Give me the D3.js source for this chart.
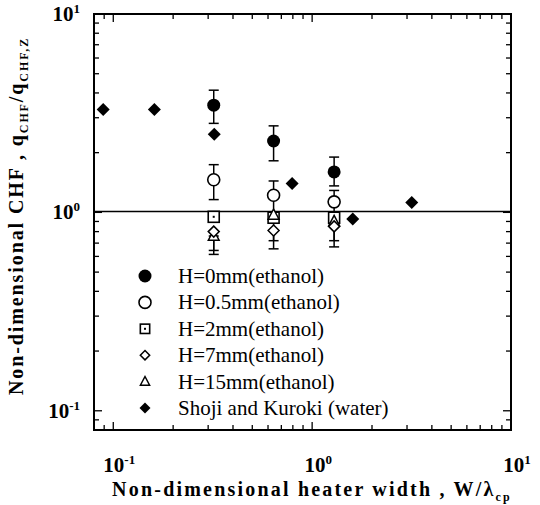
<!DOCTYPE html>
<html>
<head>
<meta charset="utf-8">
<script src="https://cdn.jsdelivr.net/npm/d3@7"></script>
<style>
  body { margin: 0; background: #fff; }
  text { font-family: "Liberation Serif", "DejaVu Serif", serif; fill: #000; }
</style>
</head>
<body>
<div id="chart"></div>
<script>
const width = 540, height = 505;

// ethanol data, columns of W/lambda
const xEthanol = [0.32, 0.64, 1.29];
const h0 = [3.47, 2.29, 1.60];
const h0Lo = [2.81, 1.82, 1.36];
const h0Hi = [4.13, 2.73, 1.90];
const h05 = [1.46, 1.22, 1.13];
const h05Lo = [1.16, 1.0, 0.95];
const h05Hi = [1.74, 1.44, 1.29];
const h2 = [0.95, 0.94, 0.94];
const h7 = [0.80, 0.81, 0.85];
const h7Lo = [0.643, 0.72, 0.72];
const h15 = [0.76, 0.97, 0.90];
const h15Lo = [0.614, 0.655, 0.67];

// Shoji and Kuroki (water)
const xShoji = [0.089, 0.161, 0.322, 0.793, 1.60, 3.17];
const yShoji = [3.30, 3.30, 2.48, 1.40, 0.925, 1.12];

const legendText = ["H=0mm(ethanol)", "H=0.5mm(ethanol)", "H=2mm(ethanol)",
                    "H=7mm(ethanol)", "H=15mm(ethanol)", "Shoji and Kuroki (water)"];
const legendSym = ["fcircle", "ocircle", "square", "odiamond", "triangle", "fdiamond"];

const pLeft = 94, pRight = 511, pTop = 14, pBottom = 430;

const x = d3.scaleLog().domain([0.08, 10]).range([pLeft, pRight]);
const y = d3.scaleLog().domain([0.08, 10]).range([pBottom, pTop]);

const svg = d3.select("#chart").append("svg")
    .attr("width", width)
    .attr("height", height);

// ticks
function logTicks(lo, hi) {
  const out = [];
  for (let e = -2; e <= 1; e++) {
    for (let m = 1; m <= 9; m++) {
      const v = m * Math.pow(10, e);
      if (v >= lo * 0.999 && v <= hi * 1.001) out.push({v: v, major: m == 1});
    }
  }
  return out;
}
const tks = logTicks(0.08, 10);
const tg = svg.append("g").attr("stroke", "#000").attr("stroke-width", 1.3);
tks.forEach(function(t) {
  const L = t.major ? 8 : 5;
  const px = x(t.v), py = y(t.v);
  tg.append("line").attr("x1", px).attr("x2", px).attr("y1", pBottom).attr("y2", pBottom - L);
  tg.append("line").attr("x1", px).attr("x2", px).attr("y1", pTop).attr("y2", pTop + L);
  tg.append("line").attr("x1", pLeft).attr("x2", pLeft + L).attr("y1", py).attr("y2", py);
  tg.append("line").attr("x1", pRight).attr("x2", pRight - L).attr("y1", py).attr("y2", py);
});

// frame
svg.append("rect")
    .attr("x", pLeft).attr("y", pTop)
    .attr("width", pRight - pLeft).attr("height", pBottom - pTop)
    .attr("fill", "none").attr("stroke", "#000").attr("stroke-width", 2);

// reference line at 1
svg.append("line")
    .attr("x1", pLeft).attr("x2", pRight)
    .attr("y1", y(1.01)).attr("y2", y(1.01))
    .attr("stroke", "#000").attr("stroke-width", 1.5);

// tick labels
function powLabel(g, px, py, exp, anchor) {
  const t = g.append("text")
      .attr("x", px).attr("y", py)
      .attr("text-anchor", anchor)
      .style("font-size", "21px").style("font-weight", "bold");
  t.append("tspan").text("10");
  t.append("tspan").attr("dy", -8).style("font-size", "13px").text(exp);
}
const decs = [0.1, 1, 10];
const expTxt = ["-1", "0", "1"];
decs.forEach(function(d, i) {
  powLabel(svg, x(d) + 6, 472, expTxt[i], "middle");
  powLabel(svg, 80, y(d) + 7, expTxt[i], "end");
});

// axis titles
const xt = svg.append("text")
    .attr("x", 312).attr("y", 496)
    .attr("text-anchor", "middle")
    .style("font-size", "20px").style("font-weight", "bold")
    .style("letter-spacing", "2.2px");
xt.append("tspan").text("Non-dimensional heater width ,  W/\u03bb");
xt.append("tspan").attr("dy", 5).style("font-size", "12px").text("cp");

const yt = svg.append("text")
    .attr("transform", "translate(23," + 216 + ") rotate(-90)")
    .attr("text-anchor", "middle")
    .style("font-size", "20px").style("font-weight", "bold")
    .style("letter-spacing", "1.9px");
yt.append("tspan").text("Non-dimensional CHF ,  q");
yt.append("tspan").attr("dy", 5).style("font-size", "12px").text("CHF");
yt.append("tspan").attr("dy", -5).text("/q");
yt.append("tspan").attr("dy", 5).style("font-size", "12px").text("CHF,Z");

// symbols
function drawSym(g, type, cx, cy, s) {
  if (type == "fcircle") {
    g.append("circle").attr("cx", cx).attr("cy", cy).attr("r", 6.5 * s).attr("fill", "#000");
  } else if (type == "ocircle") {
    g.append("circle").attr("cx", cx).attr("cy", cy).attr("r", 6 * s)
      .attr("fill", "#fff").attr("stroke", "#000").attr("stroke-width", 1.6);
  } else if (type == "square") {
    const a = 5.5 * s;
    g.append("rect").attr("x", cx - a).attr("y", cy - a).attr("width", 2 * a).attr("height", 2 * a)
      .attr("fill", "#fff").attr("stroke", "#000").attr("stroke-width", 1.6);
    g.append("rect").attr("x", cx - 1).attr("y", cy - 1).attr("width", 2).attr("height", 2).attr("fill", "#000");
  } else if (type == "odiamond") {
    const a = 5.5 * s;
    g.append("path").attr("d", `M${cx},${cy - a}L${cx + a},${cy}L${cx},${cy + a}L${cx - a},${cy}Z`)
      .attr("fill", "#fff").attr("stroke", "#000").attr("stroke-width", 1.5);
  } else if (type == "triangle") {
    const a = 6 * s;
    g.append("path").attr("d", `M${cx},${cy - a}L${cx + a * 0.9},${cy + a * 0.7}L${cx - a * 0.9},${cy + a * 0.7}Z`)
      .attr("fill", "#fff").attr("stroke", "#000").attr("stroke-width", 1.5);
  } else if (type == "fdiamond") {
    const a = 6.5 * s;
    g.append("path").attr("d", `M${cx},${cy - a}L${cx + a},${cy}L${cx},${cy + a}L${cx - a},${cy}Z`)
      .attr("fill", "#000");
  }
}

// error bars
const eg = svg.append("g").attr("stroke", "#000").attr("stroke-width", 1.5);
function errBar(xv, lo, hi) {
  const px = x(xv);
  eg.append("line").attr("x1", px).attr("x2", px).attr("y1", y(lo)).attr("y2", y(hi));
  [lo, hi].forEach(function(v) {
    eg.append("line").attr("x1", px - 5).attr("x2", px + 5).attr("y1", y(v)).attr("y2", y(v));
  });
}
xEthanol.forEach(function(xv, i) {
  errBar(xv, h0Lo[i], h0Hi[i]);
  errBar(xv, h05Lo[i], h05Hi[i]);
  errBar(xv, h7Lo[i], h7[i]);
  errBar(xv, h15Lo[i], h15[i]);
});

const pg = svg.append("g");
xEthanol.forEach(function(xv, i) {
  drawSym(pg, "square", x(xv), y(h2[i]), 1);
  drawSym(pg, "triangle", x(xv), y(h15[i]), 1);
  drawSym(pg, "odiamond", x(xv), y(h7[i]), 1);
  drawSym(pg, "ocircle", x(xv), y(h05[i]), 1);
  drawSym(pg, "fcircle", x(xv), y(h0[i]), 1);
});
xShoji.forEach(function(xv, i) {
  drawSym(pg, "fdiamond", x(xv), y(yShoji[i]), 1);
});

// legend
const lg = svg.append("g");
legendText.forEach(function(t, i) {
  const ly = 276 + i * 26.4;
  drawSym(lg, legendSym[i], 145, ly, legendSym[i] == "fcircle" || legendSym[i] == "ocircle" ? 1 : 0.85);
  lg.append("text").attr("x", 178).attr("y", ly + 7)
    .style("font-size", "21px")
    .text(t);
});
</script>
</body>
</html>
